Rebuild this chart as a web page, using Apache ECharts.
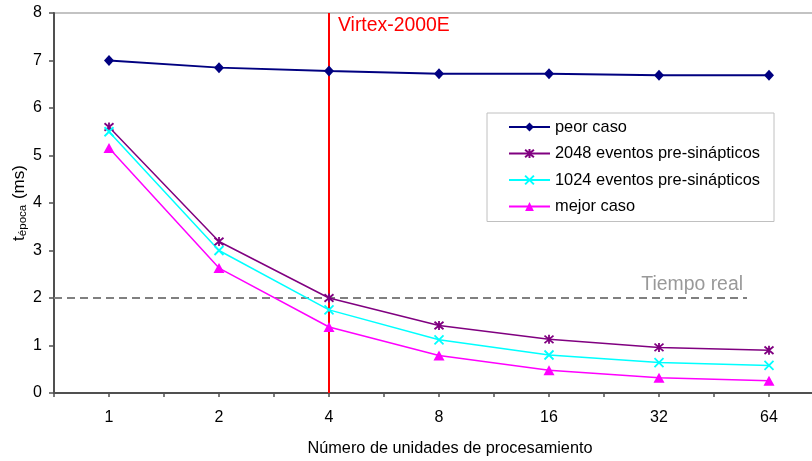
<!DOCTYPE html>
<html>
<head>
<meta charset="utf-8">
<script src="https://cdn.jsdelivr.net/npm/echarts@6/dist/echarts.min.js"></script>
<style>
  html, body { margin: 0; padding: 0; background: #fff; }
  #chart { width: 812px; height: 461px; }
</style>
</head>
<body>
<div id="chart"></div>
<script>
// Number of processing units (x categories)
const units = ['1', '2', '4', '8', '16', '32', '64'];

// Epoch time in ms for each configuration
const peorCaso   = [7.00, 6.85, 6.78, 6.72, 6.72, 6.69, 6.69];
const eventos2048 = [5.60, 3.19, 2.00, 1.42, 1.13, 0.96, 0.90];
const eventos1024 = [5.50, 3.00, 1.75, 1.12, 0.80, 0.64, 0.58];
const mejorCaso  = [5.16, 2.63, 1.39, 0.79, 0.48, 0.32, 0.26];

// Y axis ticks
const yTicks = [0, 1, 2, 3, 4, 5, 6, 7, 8];

// Reference values
const tiempoReal = 2;          // real-time limit (ms)
const virtexUnits = '4';       // units that fit in a Virtex-2000E

const FONT = '"Liberation Sans", Arial, sans-serif';

const asterisk = 'path://M0,0L10,10M10,0L0,10M5,-1L5,11';
const cross = 'path://M0,0L10,10M10,0L0,10';

const chart = echarts.init(document.getElementById('chart'), null, { renderer: 'canvas' });

chart.setOption({
  animation: false,
  backgroundColor: '#ffffff',
  textStyle: { fontFamily: FONT },
  grid: {
    left: 54, top: 13, width: 770, height: 380,
    outerBoundsMode: 'none',
    containLabel: false,
    show: true, borderColor: '#b0b0b0', borderWidth: 1.5, backgroundColor: 'transparent'
  },
  legend: {
    orient: 'vertical',
    left: 487, top: 113,
    padding: [5, 14, 6, 21],
    itemWidth: 41, itemHeight: 11, itemGap: 8.5,
    borderColor: '#c0c0c0', borderWidth: 1,
    backgroundColor: '#ffffff',
    textStyle: { fontSize: 16.4, color: '#000', fontFamily: FONT, lineHeight: 18 },
    data: ['peor caso', '2048 eventos pre-sinápticos', '1024 eventos pre-sinápticos', 'mejor caso']
  },
  xAxis: [
    {
      type: 'category',
      data: units,
      boundaryGap: true,
      axisLine: { show: true, lineStyle: { color: '#505050', width: 2 } },
      axisTick: { show: false },
      axisLabel: { fontSize: 16, color: '#000', margin: 17, fontFamily: FONT },
      name: 'Número de unidades de procesamiento',
      nameLocation: 'middle',
      nameGap: 48,
      nameMoveOverlap: false,
      nameTextStyle: { fontSize: 16.3, color: '#000', fontFamily: FONT, padding: [0, 0, 0, 22] },
      splitLine: { show: false }
    },
    {
      // helper axis: half-category tick marks and reference line extent
      type: 'value',
      min: 0, max: 7, interval: 0.5,
      position: 'bottom',
      axisLine: { show: false },
      axisTick: { show: true, length: 4, lineStyle: { color: '#505050', width: 1.5 } },
      axisLabel: { show: false },
      splitLine: { show: false }
    }
  ],
  yAxis: {
    type: 'value',
    min: yTicks[0], max: yTicks[yTicks.length - 1], interval: 1,
    axisLine: { show: true, lineStyle: { color: '#505050', width: 2 } },
    axisTick: { show: true, length: 5, inside: false, lineStyle: { color: '#505050', width: 1.5 } },
    axisLabel: { fontSize: 16, color: '#000', margin: 12, fontFamily: FONT },
    splitLine: { show: false },
    name: '{t|t}{s|época}{t| (ms)}',
    nameLocation: 'middle',
    nameRotate: 90,
    nameGap: 25,
    nameMoveOverlap: false,
    nameTextStyle: {
      fontFamily: FONT,
      padding: [0, 0, 0, 0],
      rich: {
        t: { fontSize: 17, color: '#000', fontFamily: FONT, lineHeight: 20, verticalAlign: 'middle' },
        s: { fontSize: 11.5, color: '#000', fontFamily: FONT, lineHeight: 20, verticalAlign: 'bottom', padding: [0, 1, 0, 0] }
      }
    }
  },
  series: [
    {
      name: 'peor caso',
      type: 'line',
      data: peorCaso,
      symbol: 'diamond',
      symbolSize: [10, 11],
      lineStyle: { color: '#000080', width: 2 },
      itemStyle: { color: '#000080' },
      z: 5,
      markLine: {
        silent: true,
        symbol: 'none',
        lineStyle: { color: '#ff0000', width: 2, type: 'solid' },
        label: { show: false },
        data: [{ xAxis: virtexUnits }],
        z: 3
      },
      markPoint: {
        silent: true,
        symbol: 'circle',
        symbolSize: 0,
        data: [{ coord: [virtexUnits, yTicks[yTicks.length - 1]] }],
        label: {
          show: true,
          position: 'right',
          distance: 9,
          offset: [0, 13],
          formatter: 'Virtex-2000E',
          color: '#ff0000',
          fontSize: 19.4,
          fontFamily: FONT
        }
      }
    },
    {
      name: '2048 eventos pre-sinápticos',
      type: 'line',
      data: eventos2048,
      symbol: asterisk,
      symbolSize: 9,
      lineStyle: { color: '#800080', width: 1.5 },
      itemStyle: { color: '#800080', borderColor: '#800080', borderWidth: 1.8 },
      z: 6
    },
    {
      name: '1024 eventos pre-sinápticos',
      type: 'line',
      data: eventos1024,
      symbol: cross,
      symbolSize: 9,
      lineStyle: { color: '#00ffff', width: 1.5 },
      itemStyle: { color: '#00ffff', borderColor: '#00ffff', borderWidth: 1.8 },
      z: 6
    },
    {
      name: 'mejor caso',
      type: 'line',
      data: mejorCaso,
      symbol: 'triangle',
      symbolSize: [11, 10],
      lineStyle: { color: '#ff00ff', width: 1.5 },
      itemStyle: { color: '#ff00ff' },
      z: 6
    },
    {
      // real-time limit reference line
      name: 'tiempo real',
      type: 'line',
      xAxisIndex: 1,
      data: [],
      markLine: {
        silent: true,
        symbol: 'none',
        lineStyle: { color: '#808080', width: 2, type: [8, 5] },
        label: {
          show: true,
          position: 'insideEndTop',
          formatter: 'Tiempo real',
          color: '#999999',
          fontSize: 19.4,
          fontFamily: FONT,
          distance: 4
        },
        data: [[{ coord: [0, tiempoReal] }, { coord: [6.3, tiempoReal] }]],
        z: 2
      }
    }
  ]
});
</script>
</body>
</html>
